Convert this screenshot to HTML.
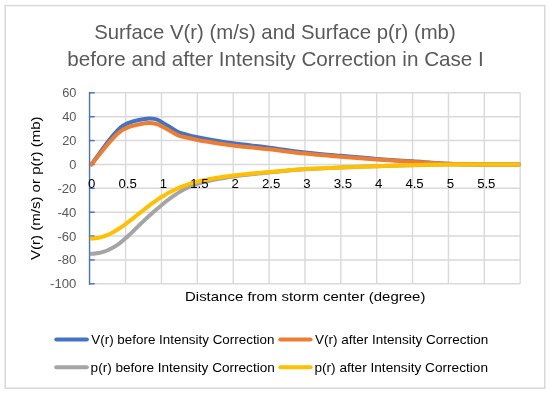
<!DOCTYPE html>
<html><head><meta charset="utf-8"><style>
html,body{margin:0;padding:0;background:#fff;overflow:hidden;}
svg{display:block;will-change:transform;}
text{font-family:"Liberation Sans",sans-serif;}
</style></head><body>
<svg width="550" height="395" viewBox="0 0 550 395">
<rect x="0" y="0" width="550" height="395" fill="#fff"/>
<rect x="5.2" y="5.6" width="539.6" height="382.6" fill="#fff" stroke="#d9d9d9" stroke-width="1.5"/>
<g font-size="21" fill="#595959">
<text x="94.2" y="38.6" textLength="361.5" lengthAdjust="spacingAndGlyphs">Surface V(r) (m/s) and Surface p(r) (mb)</text>
<text x="67.3" y="66.3" textLength="416.5" lengthAdjust="spacingAndGlyphs">before and after Intensity Correction in Case I</text>
</g>
<g stroke="#d9d9d9" stroke-width="1.4">
<line x1="125.60" y1="92.82" x2="125.60" y2="283.82"/>
<line x1="161.47" y1="92.82" x2="161.47" y2="283.82"/>
<line x1="197.34" y1="92.82" x2="197.34" y2="283.82"/>
<line x1="233.21" y1="92.82" x2="233.21" y2="283.82"/>
<line x1="269.08" y1="92.82" x2="269.08" y2="283.82"/>
<line x1="304.95" y1="92.82" x2="304.95" y2="283.82"/>
<line x1="340.82" y1="92.82" x2="340.82" y2="283.82"/>
<line x1="376.69" y1="92.82" x2="376.69" y2="283.82"/>
<line x1="412.56" y1="92.82" x2="412.56" y2="283.82"/>
<line x1="448.43" y1="92.82" x2="448.43" y2="283.82"/>
<line x1="484.30" y1="92.82" x2="484.30" y2="283.82"/>
<line x1="520.17" y1="92.82" x2="520.17" y2="283.82"/>
<line x1="89.73" y1="92.82" x2="520.17" y2="92.82"/>
<line x1="89.73" y1="116.70" x2="520.17" y2="116.70"/>
<line x1="89.73" y1="140.57" x2="520.17" y2="140.57"/>
<line x1="89.73" y1="164.45" x2="520.17" y2="164.45"/>
<line x1="89.73" y1="188.32" x2="520.17" y2="188.32"/>
<line x1="89.73" y1="212.20" x2="520.17" y2="212.20"/>
<line x1="89.73" y1="236.07" x2="520.17" y2="236.07"/>
<line x1="89.73" y1="259.95" x2="520.17" y2="259.95"/>
<line x1="89.73" y1="283.82" x2="520.17" y2="283.82"/>
</g>
<g stroke="#4472c4" stroke-width="1.4">
<line x1="89.55" y1="91.92499999999998" x2="89.55" y2="284.72499999999997"/>
<line x1="88.90" y1="92.82" x2="94.70" y2="92.82"/>
<line x1="88.90" y1="116.70" x2="94.70" y2="116.70"/>
<line x1="88.90" y1="140.57" x2="94.70" y2="140.57"/>
<line x1="88.90" y1="164.45" x2="94.70" y2="164.45"/>
<line x1="88.90" y1="188.32" x2="94.70" y2="188.32"/>
<line x1="88.90" y1="212.20" x2="94.70" y2="212.20"/>
<line x1="88.90" y1="236.07" x2="94.70" y2="236.07"/>
<line x1="88.90" y1="259.95" x2="94.70" y2="259.95"/>
<line x1="88.90" y1="283.82" x2="94.70" y2="283.82"/>
</g>
<g font-size="12.8" fill="#595959" text-anchor="end">
<text x="76.4" y="97.32">60</text>
<text x="76.4" y="121.20">40</text>
<text x="76.4" y="145.07">20</text>
<text x="76.4" y="168.95">0</text>
<text x="76.4" y="192.82" textLength="19.0" lengthAdjust="spacingAndGlyphs">-20</text>
<text x="76.4" y="216.70" textLength="19.0" lengthAdjust="spacingAndGlyphs">-40</text>
<text x="76.4" y="240.57" textLength="19.0" lengthAdjust="spacingAndGlyphs">-60</text>
<text x="76.4" y="264.45" textLength="19.0" lengthAdjust="spacingAndGlyphs">-80</text>
<text x="76.4" y="288.32" textLength="26.4" lengthAdjust="spacingAndGlyphs">-100</text>
</g>
<defs><clipPath id="pc"><rect x="89.9" y="80" width="430.4" height="215"/></clipPath></defs>
<g fill="none" stroke-width="4" stroke-linejoin="round" stroke-linecap="round" clip-path="url(#pc)">
<path stroke="#4472c4" d="M91.52 164.45 C93.32 161.94 98.76 154.18 102.28 149.41 C105.81 144.63 110.09 139.02 112.69 135.80 C115.28 132.58 116.13 131.74 117.85 130.07 C119.57 128.40 121.33 126.93 123.02 125.77 C124.70 124.62 126.34 123.86 127.97 123.15 C129.59 122.43 130.78 122.05 132.77 121.47 C134.77 120.90 137.25 120.18 139.95 119.68 C142.65 119.19 146.60 118.63 148.99 118.49 C151.38 118.35 152.69 118.55 154.30 118.85 C155.90 119.15 157.40 119.76 158.60 120.28 C159.80 120.80 159.72 120.92 161.47 121.95 C163.22 122.99 166.29 124.80 169.07 126.49 C171.86 128.18 175.15 130.71 178.19 132.10 C181.22 133.49 184.10 133.99 187.30 134.84 C190.49 135.70 193.87 136.50 197.34 137.23 C200.81 137.97 202.12 138.25 208.10 139.26 C214.08 140.28 223.05 141.93 233.21 143.32 C243.37 144.71 257.12 146.11 269.08 147.62 C281.04 149.13 292.99 151.02 304.95 152.39 C316.91 153.77 328.86 154.76 340.82 155.85 C352.78 156.95 364.73 158.04 376.69 158.96 C388.65 159.87 400.60 160.55 412.56 161.35 C424.52 162.14 436.47 163.22 448.43 163.73 C460.39 164.25 472.34 164.33 484.30 164.45 C496.26 164.57 514.19 164.45 520.17 164.45"/>
<path stroke="#ed7d31" d="M91.52 164.45 C93.32 162.19 98.76 155.21 102.28 150.91 C105.81 146.62 110.09 141.57 112.69 138.66 C115.28 135.76 116.13 135.01 117.85 133.51 C119.57 132.00 121.33 130.68 123.02 129.64 C124.70 128.60 126.34 127.92 127.97 127.28 C129.59 126.63 130.78 126.29 132.77 125.77 C134.77 125.25 137.25 124.61 139.95 124.16 C142.65 123.71 146.60 123.21 148.99 123.09 C151.38 122.96 152.69 123.14 154.30 123.41 C155.90 123.68 157.40 124.23 158.60 124.70 C159.80 125.16 159.72 125.27 161.47 126.20 C163.22 127.13 166.29 128.76 169.07 130.28 C171.86 131.81 175.15 134.08 178.19 135.33 C181.22 136.59 184.10 137.04 187.30 137.81 C190.49 138.58 193.87 139.29 197.34 139.95 C200.81 140.62 202.12 140.87 208.10 141.78 C214.08 142.69 223.05 144.18 233.21 145.43 C243.37 146.69 257.12 147.94 269.08 149.30 C281.04 150.66 292.99 152.36 304.95 153.60 C316.91 154.83 328.86 155.73 340.82 156.71 C352.78 157.70 364.73 158.68 376.69 159.51 C388.65 160.33 400.60 160.94 412.56 161.66 C424.52 162.37 436.47 163.34 448.43 163.81 C460.39 164.27 472.34 164.34 484.30 164.45 C496.26 164.56 514.19 164.45 520.17 164.45"/>
<path stroke="#a5a5a5" d="M89.73 253.89 C90.33 253.86 92.12 253.83 93.32 253.73 C94.51 253.63 95.71 253.48 96.90 253.29 C98.10 253.10 99.30 252.87 100.49 252.58 C101.69 252.29 102.88 251.95 104.08 251.56 C105.27 251.17 106.47 250.73 107.67 250.23 C108.86 249.73 110.06 249.17 111.25 248.56 C112.45 247.94 113.64 247.27 114.84 246.54 C116.03 245.80 117.23 245.00 118.43 244.15 C119.62 243.29 120.82 242.35 122.01 241.38 C123.21 240.41 124.40 239.37 125.60 238.31 C126.80 237.25 127.99 236.14 129.19 235.01 C130.38 233.89 131.58 232.72 132.77 231.56 C133.97 230.40 135.17 229.22 136.36 228.05 C137.56 226.88 138.75 225.70 139.95 224.55 C141.14 223.40 142.34 222.25 143.53 221.13 C144.73 220.00 145.93 218.89 147.12 217.79 C148.32 216.69 149.51 215.61 150.71 214.54 C151.90 213.46 153.10 212.40 154.30 211.35 C155.49 210.30 156.69 209.26 157.88 208.24 C159.08 207.21 160.27 206.20 161.47 205.21 C162.67 204.22 163.86 203.24 165.06 202.29 C166.25 201.34 167.45 200.40 168.64 199.50 C169.84 198.59 171.04 197.71 172.23 196.86 C173.43 196.00 174.62 195.18 175.82 194.39 C177.01 193.59 178.21 192.83 179.41 192.11 C180.60 191.38 181.80 190.69 182.99 190.04 C184.19 189.39 185.38 188.78 186.58 188.20 C187.77 187.62 188.97 187.08 190.17 186.57 C191.36 186.07 192.56 185.59 193.75 185.14 C194.95 184.69 196.14 184.28 197.34 183.88 C198.54 183.49 199.73 183.12 200.93 182.78 C202.12 182.43 203.32 182.11 204.51 181.80 C205.71 181.50 206.91 181.22 208.10 180.94 C209.30 180.67 210.49 180.42 211.69 180.18 C212.88 179.93 214.08 179.70 215.27 179.48 C216.47 179.26 217.67 179.04 218.86 178.83 C220.06 178.63 221.25 178.42 222.45 178.23 C223.64 178.03 224.84 177.83 226.04 177.65 C227.23 177.46 228.43 177.27 229.62 177.09 C230.82 176.92 232.01 176.74 233.21 176.57 C234.41 176.40 235.60 176.23 236.80 176.07 C237.99 175.91 239.19 175.75 240.38 175.60 C241.58 175.44 242.78 175.29 243.97 175.14 C245.17 175.00 246.36 174.85 247.56 174.71 C248.75 174.57 249.95 174.43 251.14 174.30 C252.34 174.16 253.54 174.03 254.73 173.90 C255.93 173.77 257.12 173.65 258.32 173.52 C259.51 173.40 260.71 173.28 261.91 173.16 C263.10 173.04 264.30 172.92 265.49 172.80 C266.69 172.69 265.49 172.82 269.08 172.46 C272.67 172.10 281.04 171.18 287.01 170.66 C292.99 170.14 295.98 169.86 304.95 169.34 C313.92 168.83 328.86 168.05 340.82 167.55 C352.78 167.06 364.73 166.76 376.69 166.36 C388.65 165.96 400.60 165.48 412.56 165.17 C424.52 164.85 436.47 164.57 448.43 164.45 C460.39 164.33 472.34 164.45 484.30 164.45 C496.26 164.45 514.19 164.45 520.17 164.45"/>
<path stroke="#ffc000" d="M89.73 238.60 C90.33 238.59 92.12 238.58 93.32 238.49 C94.51 238.40 95.71 238.27 96.90 238.08 C98.10 237.90 99.30 237.66 100.49 237.37 C101.69 237.07 102.88 236.72 104.08 236.31 C105.27 235.91 106.47 235.44 107.67 234.92 C108.86 234.41 110.06 233.83 111.25 233.22 C112.45 232.60 113.64 231.94 114.84 231.24 C116.03 230.54 117.23 229.80 118.43 229.03 C119.62 228.26 120.82 227.45 122.01 226.62 C123.21 225.79 124.40 224.93 125.60 224.05 C126.80 223.17 127.99 222.27 129.19 221.36 C130.38 220.44 131.58 219.51 132.77 218.57 C133.97 217.63 135.17 216.68 136.36 215.73 C137.56 214.78 138.75 213.82 139.95 212.86 C141.14 211.91 142.34 210.95 143.53 210.01 C144.73 209.07 145.93 208.12 147.12 207.20 C148.32 206.28 149.51 205.37 150.71 204.48 C151.90 203.59 153.10 202.71 154.30 201.86 C155.49 201.02 156.69 200.19 157.88 199.39 C159.08 198.60 160.27 197.82 161.47 197.07 C162.67 196.33 163.86 195.60 165.06 194.90 C166.25 194.20 167.45 193.53 168.64 192.87 C169.84 192.22 171.04 191.60 172.23 190.99 C173.43 190.39 174.62 189.81 175.82 189.25 C177.01 188.70 178.21 188.17 179.41 187.66 C180.60 187.15 181.80 186.67 182.99 186.20 C184.19 185.74 185.38 185.31 186.58 184.89 C187.77 184.47 188.97 184.08 190.17 183.70 C191.36 183.33 192.56 182.97 193.75 182.64 C194.95 182.30 196.14 181.98 197.34 181.68 C198.54 181.37 199.73 181.08 200.93 180.81 C202.12 180.54 203.32 180.28 204.51 180.03 C205.71 179.78 206.91 179.55 208.10 179.32 C209.30 179.10 210.49 178.88 211.69 178.67 C212.88 178.47 214.08 178.27 215.27 178.08 C216.47 177.89 217.67 177.70 218.86 177.52 C220.06 177.34 221.25 177.16 222.45 176.99 C223.64 176.82 224.84 176.65 226.04 176.49 C227.23 176.33 228.43 176.17 229.62 176.01 C230.82 175.86 232.01 175.71 233.21 175.56 C234.41 175.41 235.60 175.27 236.80 175.13 C237.99 174.99 239.19 174.85 240.38 174.72 C241.58 174.58 242.78 174.45 243.97 174.33 C245.17 174.20 246.36 174.07 247.56 173.95 C248.75 173.83 249.95 173.71 251.14 173.59 C252.34 173.48 253.54 173.36 254.73 173.25 C255.93 173.14 257.12 173.03 258.32 172.92 C259.51 172.81 260.71 172.70 261.91 172.60 C263.10 172.49 264.30 172.39 265.49 172.29 C266.69 172.19 265.49 172.30 269.08 171.99 C272.67 171.68 281.04 170.90 287.01 170.42 C292.99 169.94 295.98 169.60 304.95 169.11 C313.92 168.61 328.86 167.91 340.82 167.43 C352.78 166.96 364.73 166.64 376.69 166.24 C388.65 165.84 400.60 165.35 412.56 165.05 C424.52 164.75 436.47 164.55 448.43 164.45 C460.39 164.35 472.34 164.45 484.30 164.45 C496.26 164.45 514.19 164.45 520.17 164.45"/>
</g>
<g font-size="13.2" fill="#000" text-anchor="middle">
<text x="91.73" y="187.6">0</text>
<text x="127.60" y="187.6">0.5</text>
<text x="163.47" y="187.6">1</text>
<text x="199.34" y="187.6">1.5</text>
<text x="235.21" y="187.6">2</text>
<text x="271.08" y="187.6">2.5</text>
<text x="306.95" y="187.6">3</text>
<text x="342.82" y="187.6">3.5</text>
<text x="378.69" y="187.6">4</text>
<text x="414.56" y="187.6">4.5</text>
<text x="450.43" y="187.6">5</text>
<text x="486.30" y="187.6">5.5</text>
</g>
<g font-size="13.6" fill="#000">
<text x="185.0" y="301.2" textLength="240.4" lengthAdjust="spacingAndGlyphs">Distance from storm center (degree)</text>
<text transform="translate(39.5 260.0) rotate(-90)" x="0" y="0" textLength="143.6" lengthAdjust="spacingAndGlyphs">V(r) (m/s) or p(r) (mb)</text>
<text x="91.3" y="344.3" textLength="183.2" lengthAdjust="spacingAndGlyphs">V(r) before Intensity Correction</text>
<text x="315.1" y="344.3" textLength="173.1" lengthAdjust="spacingAndGlyphs">V(r) after Intensity Correction</text>
<text x="90.6" y="372.0" textLength="184.2" lengthAdjust="spacingAndGlyphs">p(r) before Intensity Correction</text>
<text x="314.4" y="372.0" textLength="173.6" lengthAdjust="spacingAndGlyphs">p(r) after Intensity Correction</text>
</g>
<g stroke-width="4" stroke-linecap="round">
<line x1="56.3" y1="339.5" x2="86.9" y2="339.5" stroke="#4472c4"/>
<line x1="280.3" y1="339.5" x2="310.6" y2="339.5" stroke="#ed7d31"/>
<line x1="56.3" y1="367.2" x2="86.9" y2="367.2" stroke="#a5a5a5"/>
<line x1="280.3" y1="367.2" x2="310.6" y2="367.2" stroke="#ffc000"/>
</g>
</svg>
</body></html>
